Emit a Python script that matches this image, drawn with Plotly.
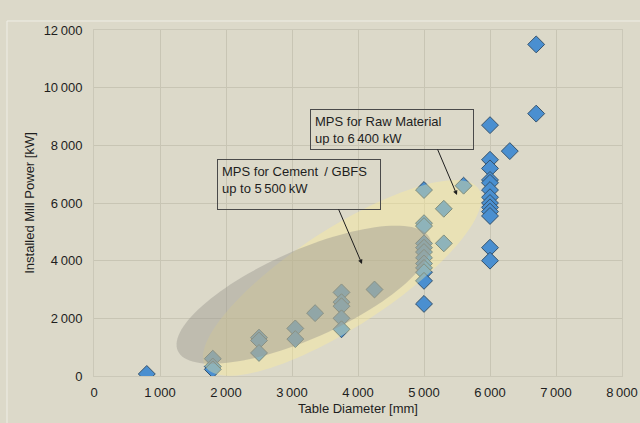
import math
import plotly.graph_objects as go

# ---- data ----
table_diameter = [800,
                  1800, 1800, 1800,
                  2500, 2500, 2500,
                  3050, 3050,
                  3350,
                  3750, 3750, 3750, 3750, 3750,
                  4250,
                  5000, 5000, 5000, 5000, 5000, 5000, 5000, 5000, 5000, 5000, 5000, 5000,
                  5300, 5300, 5600,
                  6000, 6000, 6000, 6000, 6000, 6000, 6000, 6000, 6000, 6000, 6000, 6000, 6000,
                  6300, 6700, 6700]
mill_power = [70,
              600, 330, 230,
              1330, 1230, 800,
              1650, 1280,
              2180,
              2900, 2560, 2420, 2000, 1620,
              3000,
              6450, 5300, 5200, 4600, 4450, 4300, 4100, 3900, 3750, 3600, 3300, 2500,
              5800, 4600, 6600,
              8700, 7500, 7200, 6800, 6700, 6450, 6200, 6000, 5850, 5700, 5550, 4450, 4000,
              7800, 11500, 9100]

x_ticks = [0, 1000, 2000, 3000, 4000, 5000, 6000, 7000, 8000]
x_tick_text = ["0", "1\u2009000", "2\u2009000", "3\u2009000", "4\u2009000",
               "5\u2009000", "6\u2009000", "7\u2009000", "8\u2009000"]
y_ticks = [0, 2000, 4000, 6000, 8000, 10000, 12000]
y_tick_text = ["0", "2\u2009000", "4\u2009000", "6\u2009000", "8\u2009000",
               "10\u2009000", "12\u2009000"]

label_raw = "MPS for Raw Material<br>up to 6\u2009400 kW"
label_cem = "MPS for Cement \u2009/ GBFS<br>up to 5\u2009500\u2009kW"

# ---- layout geometry ----
W, H = 640, 423
ML, MR, MT, MB = 94, 18, 30, 47
PW, PH = W - ML - MR, H - MT - MB
XR, YR = (0, 8000), (0, 12000)
ux = (XR[1] - XR[0]) / PW   # data units per pixel
uy = (YR[1] - YR[0]) / PH

BG = "#dcd9c9"
FONT = "Liberation Sans, Arial, sans-serif"


def ellipse_path(cx, cy, a_px, b_px, ang_deg, n=120):
    phi = math.radians(ang_deg)
    pts = []
    for i in range(n):
        t = 2 * math.pi * i / n
        du = a_px * math.cos(t) * math.cos(phi) - b_px * math.sin(t) * math.sin(phi)
        dv = a_px * math.cos(t) * math.sin(phi) + b_px * math.sin(t) * math.cos(phi)
        pts.append((cx + du * ux, cy + dv * uy))
    return "M " + " L ".join(f"{x:.1f},{y:.1f}" for x, y in pts) + " Z"


fig = go.Figure()
fig.add_trace(go.Scatter(
    x=table_diameter, y=mill_power, mode="markers",
    marker=dict(symbol="diamond", size=13, color="#4a8fd0",
                line=dict(color="#35526b", width=1)),
    hoverinfo="x+y", showlegend=False))

shapes = [
    # outer frame
    dict(type="rect", xref="paper", yref="paper",
         x0=(7 - ML) / PW, x1=(W + 20 - ML) / PW,
         y0=-(H + 20 - MT - PH) / PH, y1=(PH + MT - 21) / PH,
         line=dict(color="#efeee6", width=1), fillcolor="rgba(0,0,0,0)", layer="below"),
    # yellow ellipse (raw material)
    dict(type="path", xref="x", yref="y",
         path=ellipse_path(3760, 3400, 163, 49, 33),
         fillcolor="rgba(255,240,150,0.38)", line=dict(width=0), layer="above"),
    # grey ellipse (cement / GBFS)
    dict(type="path", xref="x", yref="y",
         path=ellipse_path(3180, 2820, 138, 44, 24),
         fillcolor="rgba(150,148,140,0.42)", line=dict(width=0), layer="above"),
]

annotations = [
    dict(x=3273, y=9260, xref="x", yref="y", text=label_raw, showarrow=False,
         xanchor="left", yanchor="top", align="left", valign="top",
         width=154, height=31, borderpad=4, bordercolor="#4a4a4a", borderwidth=1,
         font=dict(family=FONT, size=13, color="#1e1e1e")),
    dict(x=1864, y=7526, xref="x", yref="y", text=label_cem, showarrow=False,
         xanchor="left", yanchor="top", align="left", valign="top",
         width=154, height=41, borderpad=4, bordercolor="#4a4a4a", borderwidth=1,
         font=dict(family=FONT, size=13, color="#1e1e1e")),
    dict(x=5500, y=6277, xref="x", yref="y", text="", showarrow=True,
         ax=-20, ay=-47, arrowhead=2, arrowsize=0.9, arrowwidth=1,
         arrowcolor="#1e1e1e", standoff=0, startstandoff=0),
    dict(x=4061, y=3884, xref="x", yref="y", text="", showarrow=True,
         ax=-24, ay=-56, arrowhead=2, arrowsize=0.9, arrowwidth=1,
         arrowcolor="#1e1e1e", standoff=0, startstandoff=0),
]

fig.update_layout(
    width=W, height=H,
    margin=dict(l=ML, r=MR, t=MT, b=MB, pad=0, autoexpand=False),
    paper_bgcolor=BG, plot_bgcolor=BG,
    font=dict(family=FONT, size=13, color="#1e1e1e"),
    shapes=shapes, annotations=annotations,
    xaxis=dict(range=list(XR), tickvals=x_ticks, ticktext=x_tick_text,
               showgrid=True, gridcolor="#c8c5b4", gridwidth=1, zeroline=False,
               showline=True, linecolor="#cbc8b8", mirror=True, ticks="",
               ticklabelstandoff=4, automargin=False,
               title=dict(text="Table Diameter [mm]", standoff=5,
                          font=dict(size=13))),
    yaxis=dict(range=list(YR), tickvals=y_ticks, ticktext=y_tick_text,
               showgrid=True, gridcolor="#c8c5b4", gridwidth=1, zeroline=False,
               showline=True, linecolor="#cbc8b8", mirror=True, ticks="",
               ticklabelstandoff=8, automargin=False,
               title=dict(text="Installed Mill Power [kW]", standoff=6,
                          font=dict(size=13))),
)

fig.write_html("out.html",
               config={"displayModeBar": False},
               post_script="document.body.style.margin='0';"
                           "document.body.style.background='" + BG + "';")
